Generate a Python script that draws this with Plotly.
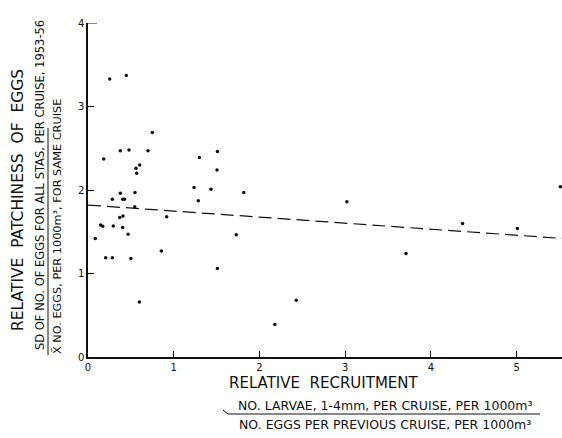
import plotly.graph_objects as go

# Data
rel_recruitment = [0.253, 0.447, 0.75, 0.377, 0.478, 0.70, 0.183, 0.603, 0.56, 0.568,
                   1.30, 1.51, 1.505, 1.237, 1.435, 1.817, 0.377, 0.548, 0.284, 0.405,
                   0.425, 1.287, 0.545, 0.37, 0.408, 0.918, 0.148, 0.171, 0.295, 0.405,
                   0.467, 1.73, 0.085, 0.855, 0.206, 0.284, 0.50, 1.51, 0.60, 2.43,
                   2.18, 3.02, 4.37, 5.01, 3.71, 5.51]
rel_patchiness = [3.33, 3.37, 2.69, 2.47, 2.48, 2.47, 2.37, 2.30, 2.26, 2.20,
                  2.39, 2.46, 2.24, 2.03, 2.01, 1.97, 1.96, 1.97, 1.89, 1.89,
                  1.89, 1.87, 1.80, 1.67, 1.69, 1.68, 1.58, 1.565, 1.57, 1.55,
                  1.47, 1.465, 1.42, 1.27, 1.19, 1.19, 1.18, 1.06, 0.66, 0.68,
                  0.39, 1.86, 1.60, 1.54, 1.24, 2.04]
trend_x = [0.0, 5.53]
trend_y = [1.82, 1.42]
x_ticks = [0, 1, 2, 3, 4, 5]
y_ticks = [0, 1, 2, 3, 4]

W, H = 562, 438
L, R, T, B = 88, 0, 23, 81
PW = W - L - R
PH = H - T - B


def px(p):
    return (p - L) / PW


def py(p):
    return (H - B - p) / PH


FONT = "DejaVu Sans"
INK = "#111111"

fig = go.Figure()
fig.add_trace(go.Scatter(x=trend_x, y=trend_y, mode="lines",
                         line=dict(color=INK, width=1.2, dash="13px,6px"),
                         hoverinfo="skip", showlegend=False))
fig.add_trace(go.Scatter(x=rel_recruitment, y=rel_patchiness, mode="markers",
                         marker=dict(color=INK, size=3.5), showlegend=False))

fig.update_layout(
    width=W, height=H,
    margin=dict(l=L, r=R, t=T, b=B),
    paper_bgcolor="white", plot_bgcolor="white",
    font=dict(family=FONT, color=INK),
    xaxis=dict(range=[0, 5.53], tickvals=x_ticks, ticktext=[str(v) for v in x_ticks],
               ticks="inside", ticklen=6, tickcolor=INK, tickwidth=1,
               showline=True, linecolor=INK, linewidth=1.5, showgrid=False,
               zeroline=False, tickfont=dict(size=10, family=FONT), fixedrange=True),
    yaxis=dict(range=[0, 4], tickvals=y_ticks, ticktext=[str(v) for v in y_ticks],
               ticks="inside", ticklen=6, tickcolor=INK, tickwidth=1,
               showline=True, linecolor=INK, linewidth=1.5, showgrid=False,
               zeroline=False, tickfont=dict(size=10, family=FONT), fixedrange=True),
)

anns = [
    dict(text="RELATIVE  PATCHINESS  OF  EGGS", x=px(18), y=py(200), size=15.5),
    dict(text="SD OF NO. OF EGGS FOR ALL STAS, PER CRUISE, 1953-56", x=px(40), y=py(185), size=11.5),
    dict(text="X\u0304 NO. EGGS, PER 1000m\u00b3, FOR SAME CRUISE", x=px(58), y=py(227), size=11.3),
]
for a in anns:
    fig.add_annotation(text=a["text"], x=a["x"], y=a["y"], xref="paper", yref="paper",
                       showarrow=False, textangle=-90, xanchor="center", yanchor="middle",
                       font=dict(size=a["size"], family=FONT, color=INK))

xanns = [
    dict(text="RELATIVE  RECRUITMENT", x=px(324), y=py(383), size=15),
    dict(text="NO. LARVAE, 1-4mm, PER CRUISE, PER 1000m\u00b3", x=px(385), y=py(405), size=12.5),
    dict(text="NO. EGGS PER PREVIOUS CRUISE, PER 1000m\u00b3", x=px(385), y=py(424), size=12.5),
]
for a in xanns:
    fig.add_annotation(text=a["text"], x=a["x"], y=a["y"], xref="paper", yref="paper",
                       showarrow=False, xanchor="center", yanchor="middle",
                       font=dict(size=a["size"], family=FONT, color=INK))

# fraction bars
fig.add_shape(type="line", xref="paper", yref="paper",
              x0=px(48), x1=px(48), y0=py(355), y1=py(128),
              line=dict(color=INK, width=1))
fig.add_shape(type="line", xref="paper", yref="paper",
              x0=px(228), x1=px(540), y0=py(414), y1=py(414),
              line=dict(color=INK, width=1))
fig.add_shape(type="line", xref="paper", yref="paper",
              x0=px(223), x1=px(228), y0=py(410), y1=py(414),
              line=dict(color=INK, width=1))
# short top tick at y=4
fig.add_shape(type="line", xref="paper", yref="y",
              x0=0, x1=px(97), y0=4, y1=4, line=dict(color=INK, width=1))

fig.write_html("out.html")
